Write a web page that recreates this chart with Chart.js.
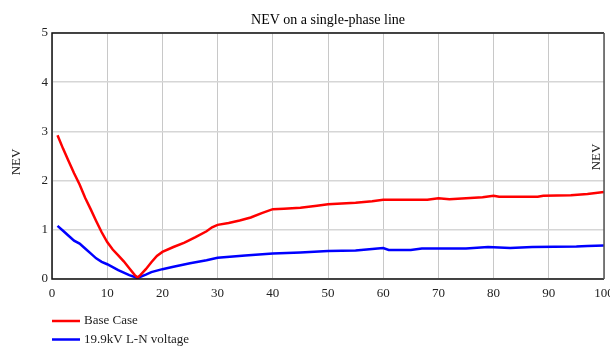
<!DOCTYPE html>
<html>
<head>
<meta charset="utf-8">
<script src="https://cdn.jsdelivr.net/npm/chart.js@4.4.0/dist/chart.umd.min.js"></script>
<style>
  html, body { margin: 0; padding: 0; background: #fff; }
  #wrap { width: 610px; height: 346px; }
</style>
</head>
<body>
<div id="wrap"><canvas id="grafico" width="610" height="346"></canvas></div>
<script>
const titulo = "NEV on a single-phase line";
const tituloEixo = "NEV";
const rotulos = ["Base Case", "19.9kV L-N voltage"];
const cores = ["#ff0000", "#0000ff"];

// Base Case
const baseX = [1, 2, 3, 4, 5, 6, 7, 8, 9, 10, 11, 12, 13, 14, 15, 15.5, 16, 17, 18, 19, 20, 22, 24, 26, 28, 29, 30, 32, 34, 36, 38, 40, 42, 45, 48, 50, 55, 58, 60, 65, 68, 70, 72, 75, 78, 80, 81, 85, 88, 89, 94, 97, 100];
const baseY = [2.92, 2.65, 2.4, 2.15, 1.92, 1.65, 1.42, 1.18, 0.95, 0.75, 0.6, 0.48, 0.36, 0.22, 0.08, 0.03, 0.08, 0.2, 0.34, 0.47, 0.55, 0.65, 0.74, 0.85, 0.97, 1.05, 1.1, 1.14, 1.19, 1.25, 1.34, 1.42, 1.43, 1.45, 1.49, 1.52, 1.55, 1.58, 1.61, 1.61, 1.61, 1.64, 1.62, 1.64, 1.66, 1.69, 1.67, 1.67, 1.67, 1.69, 1.70, 1.73, 1.77];

// 19.9kV L-N voltage
const tensaoX = [1, 2, 3, 4, 5, 6, 7, 8, 9, 10, 11, 12, 13, 14, 15.5, 17, 18, 20, 22, 25, 28, 30, 35, 40, 45, 50, 55, 59, 60, 61, 65, 67, 70, 75, 79, 83, 87, 95, 97, 100];
const tensaoY = [1.08, 0.98, 0.88, 0.78, 0.72, 0.62, 0.52, 0.42, 0.35, 0.3, 0.24, 0.18, 0.13, 0.08, 0.02, 0.09, 0.14, 0.2, 0.25, 0.32, 0.38, 0.43, 0.48, 0.52, 0.54, 0.57, 0.58, 0.62, 0.63, 0.59, 0.59, 0.62, 0.62, 0.62, 0.65, 0.63, 0.65, 0.66, 0.67, 0.68];

const xTicks = [0, 10, 20, 30, 40, 50, 60, 70, 80, 90, 100];
const yTicks = [0, 1, 2, 3, 4, 5];

const fonte = "'Liberation Serif', 'Times New Roman', serif";

const pontos = (xs, ys) => xs.map((x, i) => ({ x: x, y: ys[i] }));

// textos extras: titulo, rotulos dos eixos, legenda
const extras = {
  id: "extras",
  afterDraw(chart) {
    const ctx = chart.ctx;
    const area = chart.chartArea;
    ctx.save();
    ctx.fillStyle = "#000";
    ctx.font = "14px " + fonte;
    ctx.textAlign = "center";
    ctx.textBaseline = "middle";
    ctx.fillText(titulo, (area.left + area.right) / 2, 20);

    ctx.font = "13px " + fonte;
    ctx.fillStyle = "#222";
    ctx.save();
    ctx.translate(17, 162);
    ctx.rotate(-Math.PI / 2);
    ctx.fillText(tituloEixo, 0, 0);
    ctx.restore();
    ctx.save();
    ctx.translate(597, 157);
    ctx.rotate(-Math.PI / 2);
    ctx.fillText(tituloEixo, 0, 0);
    ctx.restore();

    // borda do grafico
    ctx.lineWidth = 1.5;
    ctx.strokeStyle = "#111";
    ctx.beginPath();
    ctx.moveTo(area.right, area.top);
    ctx.lineTo(area.left, area.top);
    ctx.lineTo(area.left, area.bottom);
    ctx.lineTo(area.right, area.bottom);
    ctx.stroke();
    ctx.strokeStyle = "#555";
    ctx.beginPath();
    ctx.moveTo(area.right, area.top);
    ctx.lineTo(area.right, area.bottom);
    ctx.stroke();

    // legenda
    ctx.textAlign = "left";
    ctx.fillStyle = "#222";
    chart.data.datasets.forEach((ds, i) => {
      const y = 321 + i * 18.5;
      ctx.strokeStyle = ds.borderColor;
      ctx.lineWidth = 2.5;
      ctx.beginPath();
      ctx.moveTo(52, y);
      ctx.lineTo(80, y);
      ctx.stroke();
      ctx.fillText(ds.label, 84, y);
    });
    ctx.restore();
  },
};

new Chart(document.getElementById("grafico"), {
  type: "line",
  data: {
    datasets: [
      {
        label: rotulos[0],
        data: pontos(baseX, baseY),
        borderColor: cores[0],
        borderWidth: 2.5,
        pointRadius: 0,
        tension: 0,
      },
      {
        label: rotulos[1],
        data: pontos(tensaoX, tensaoY),
        borderColor: cores[1],
        borderWidth: 2.5,
        pointRadius: 0,
        tension: 0,
      },
    ],
  },
  options: {
    responsive: false,
    animation: false,
    layout: { padding: { left: 0, right: 6, top: 33, bottom: 47 } },
    plugins: {
      legend: { display: false },
      title: { display: false },
      tooltip: { enabled: false },
    },
    scales: {
      x: {
        type: "linear",
        min: 0,
        max: 100,
        afterBuildTicks: (s) => { s.ticks = xTicks.map((v) => ({ value: v })); },
        afterFit: (s) => { s.height = 20; s.paddingLeft = 0; s.paddingRight = 0; },
        grid: { color: "#c8c8c8", lineWidth: 1, drawTicks: false },
        border: { display: false },
        ticks: {
          padding: 7,
          color: "#222",
          font: { family: fonte, size: 13 },
          maxRotation: 0,
          autoSkip: false,
        },
      },
      y: {
        min: 0,
        max: 5,
        afterBuildTicks: (s) => { s.ticks = yTicks.map((v) => ({ value: v })); },
        afterFit: (s) => { s.width = 52; },
        grid: { color: "#d6d6d6", lineWidth: 1.5, drawTicks: false },
        border: { display: false },
        ticks: {
          padding: 4,
          color: "#222",
          font: { family: fonte, size: 13 },
        },
      },
    },
  },
  plugins: [extras],
});
</script>
</body>
</html>
